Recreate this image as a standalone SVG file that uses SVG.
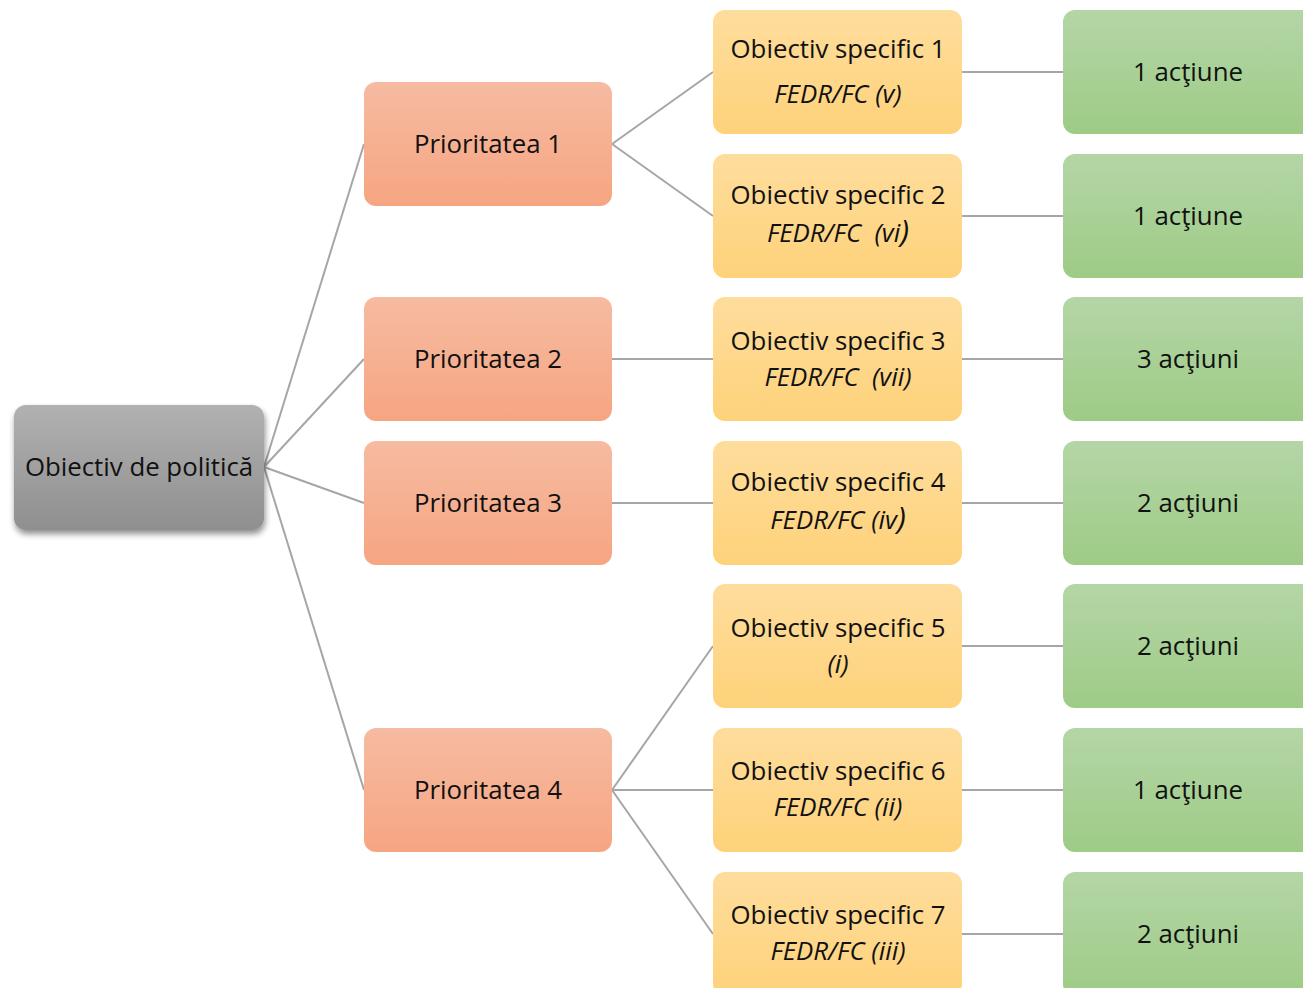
<svg xmlns="http://www.w3.org/2000/svg" width="1303" height="988" viewBox="0 0 1303 988">
<defs>
<linearGradient id="gGray" x1="0" y1="0" x2="0" y2="1"><stop offset="0" stop-color="#b1b1b1"/><stop offset="1" stop-color="#8f8f8f"/></linearGradient>
<linearGradient id="gSal" x1="0" y1="0" x2="0" y2="1"><stop offset="0" stop-color="#f6bba2"/><stop offset="1" stop-color="#f6a581"/></linearGradient>
<linearGradient id="gYel" x1="0" y1="0" x2="0" y2="1"><stop offset="0" stop-color="#fedd9d"/><stop offset="1" stop-color="#fed27a"/></linearGradient>
<linearGradient id="gGrn" x1="0" y1="0" x2="0" y2="1"><stop offset="0" stop-color="#b4d6a6"/><stop offset="1" stop-color="#9ecb86"/></linearGradient>
<filter id="sh" x="-10%" y="-10%" width="125%" height="130%"><feGaussianBlur in="SourceAlpha" stdDeviation="3"/><feOffset dx="1" dy="4"/><feComponentTransfer><feFuncA type="linear" slope="0.45"/></feComponentTransfer><feMerge><feMergeNode/><feMergeNode in="SourceGraphic"/></feMerge></filter>
</defs>
<style>
text{font-family:"Open Sans","Noto Sans","Liberation Sans",sans-serif;font-size:25.8px;fill:#111;text-anchor:middle;white-space:pre}
.it{font-style:italic}
.conn line{stroke:#a6a6a6;stroke-width:2}
</style>
<rect width="1303" height="988" fill="#ffffff"/>
<g class="conn">
<line x1="264" y1="467" x2="364" y2="144"/>
<line x1="264" y1="467" x2="364" y2="359"/>
<line x1="264" y1="467" x2="364" y2="503"/>
<line x1="264" y1="467" x2="364" y2="790"/>
<line x1="612" y1="144" x2="713" y2="72"/>
<line x1="612" y1="144" x2="713" y2="216"/>
<line x1="612" y1="359" x2="713" y2="359"/>
<line x1="612" y1="503" x2="713" y2="503"/>
<line x1="612" y1="790" x2="713" y2="646"/>
<line x1="612" y1="790" x2="713" y2="790"/>
<line x1="612" y1="790" x2="713" y2="934"/>
<line x1="962" y1="72" x2="1063" y2="72"/>
<line x1="962" y1="216" x2="1063" y2="216"/>
<line x1="962" y1="359" x2="1063" y2="359"/>
<line x1="962" y1="503" x2="1063" y2="503"/>
<line x1="962" y1="646" x2="1063" y2="646"/>
<line x1="962" y1="790" x2="1063" y2="790"/>
<line x1="962" y1="934" x2="1063" y2="934"/>
</g>
<g id="obiectiv-politica"><rect x="14" y="405" width="250" height="125" rx="12" fill="url(#gGray)" filter="url(#sh)"/><text x="139" y="476">Obiectiv de politică</text></g>
<g id="p1"><rect x="364" y="82" width="248" height="124" rx="12" fill="url(#gSal)"/><text x="488" y="153">Prioritatea 1</text></g>
<g id="p2"><rect x="364" y="297" width="248" height="124" rx="12" fill="url(#gSal)"/><text x="488" y="368">Prioritatea 2</text></g>
<g id="p3"><rect x="364" y="441" width="248" height="124" rx="12" fill="url(#gSal)"/><text x="488" y="512">Prioritatea 3</text></g>
<g id="p4"><rect x="364" y="728" width="248" height="124" rx="12" fill="url(#gSal)"/><text x="488" y="799">Prioritatea 4</text></g>
<g id="os1"><rect x="713" y="10" width="249" height="124" rx="12" fill="url(#gYel)"/><text x="838" y="58">Obiectiv specific 1</text><text class="it" x="838" y="103">FEDR/FC (v)</text></g>
<g id="os2"><rect x="713" y="154" width="249" height="124" rx="12" fill="url(#gYel)"/><text x="838" y="204">Obiectiv specific 2</text><text class="it" x="838" y="242">FEDR/FC  (vi<tspan font-size="31">)</tspan></text></g>
<g id="os3"><rect x="713" y="297" width="249" height="124" rx="12" fill="url(#gYel)"/><text x="838" y="350">Obiectiv specific 3</text><text class="it" x="838" y="386">FEDR/FC  (vii)</text></g>
<g id="os4"><rect x="713" y="441" width="249" height="124" rx="12" fill="url(#gYel)"/><text x="838" y="491">Obiectiv specific 4</text><text class="it" x="838" y="529">FEDR/FC (iv<tspan font-size="31">)</tspan></text></g>
<g id="os5"><rect x="713" y="584" width="249" height="124" rx="12" fill="url(#gYel)"/><text x="838" y="637">Obiectiv specific 5</text><text class="it" x="838" y="673">(i)</text></g>
<g id="os6"><rect x="713" y="728" width="249" height="124" rx="12" fill="url(#gYel)"/><text x="838" y="780">Obiectiv specific 6</text><text class="it" x="838" y="816">FEDR/FC (ii)</text></g>
<g id="os7"><rect x="713" y="872" width="249" height="124" rx="12" fill="url(#gYel)"/><text x="838" y="924">Obiectiv specific 7</text><text class="it" x="838" y="960">FEDR/FC (iii)</text></g>
<g id="a1"><rect x="1063" y="10" width="260" height="124" rx="12" fill="url(#gGrn)"/><text x="1188" y="81">1 acţiune</text></g>
<g id="a2"><rect x="1063" y="154" width="260" height="124" rx="12" fill="url(#gGrn)"/><text x="1188" y="225">1 acţiune</text></g>
<g id="a3"><rect x="1063" y="297" width="260" height="124" rx="12" fill="url(#gGrn)"/><text x="1188" y="368">3 acţiuni</text></g>
<g id="a4"><rect x="1063" y="441" width="260" height="124" rx="12" fill="url(#gGrn)"/><text x="1188" y="512">2 acţiuni</text></g>
<g id="a5"><rect x="1063" y="584" width="260" height="124" rx="12" fill="url(#gGrn)"/><text x="1188" y="655">2 acţiuni</text></g>
<g id="a6"><rect x="1063" y="728" width="260" height="124" rx="12" fill="url(#gGrn)"/><text x="1188" y="799">1 acţiune</text></g>
<g id="a7"><rect x="1063" y="872" width="260" height="124" rx="12" fill="url(#gGrn)"/><text x="1188" y="943">2 acţiuni</text></g>
</svg>
